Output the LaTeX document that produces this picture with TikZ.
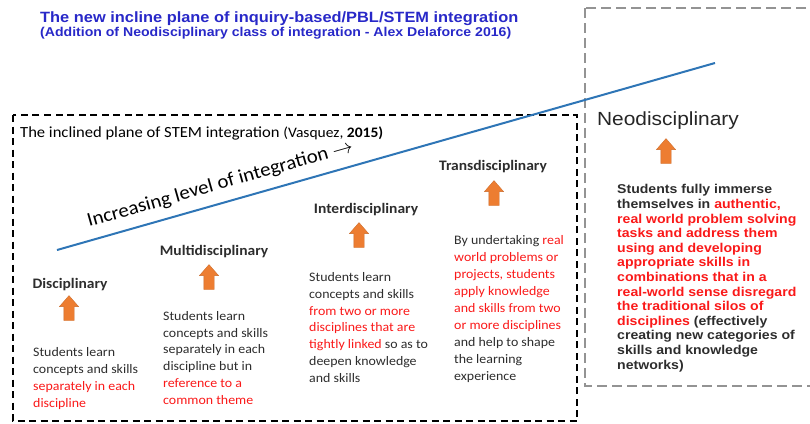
\documentclass[tikz,border=0pt]{standalone}
\usepackage{fontspec}
\setmainfont{Carlito}[FakeStretch=1.07]
\newfontfamily\arialfont{Liberation Sans}[FakeStretch=1.1]
\usetikzlibrary{shapes.arrows}

\definecolor{titleblue}{RGB}{40,40,200}
\definecolor{planeblue}{RGB}{46,117,182}
\definecolor{arrorange}{RGB}{237,125,49}
\definecolor{txtgray}{RGB}{45,45,45}
\definecolor{hired}{RGB}{250,25,25}
\newcommand{\hl}[1]{\textcolor{hired}{#1}}

\begin{document}
\begin{tikzpicture}[
  x=1pt, y=-1pt,
  stage/.style={font=\fontsize{14.5}{16}\selectfont\bfseries, text=txtgray, inner sep=0pt},
  desc/.style={font=\fontsize{13}{16.7}\selectfont, text=txtgray, align=left, anchor=base west, inner sep=0pt},
  uparr/.style={single arrow, shape border rotate=90, fill=arrorange, draw=arrorange!85!black, line width=0.3pt,
    minimum height=25pt, minimum width=19pt, inner sep=5pt, single arrow head extend=4.5pt,
    single arrow tip angle=82},
  oldframe/.style={line width=2pt, dash pattern=on 7pt off 4.5pt},
  newframe/.style={line width=2pt, gray!85, dash pattern=on 10pt off 5pt}
]
  \useasboundingbox (0,0) rectangle (810,423);

  % title
  \node[anchor=base west, inner sep=0pt, text=titleblue, font=\arialfont\bfseries\fontsize{14.9}{16}\selectfont] (title) at (40,22)
    {The new incline plane of inquiry-based/PBL/STEM integration};
  \node[anchor=base west, inner sep=0pt, text=titleblue, font=\arialfont\bfseries\fontsize{12.8}{13}\selectfont] (subtitle) at (40,36)
    {(Addition of Neodisciplinary class of integration - Alex Delaforce 2016)};

  % frames
  \draw[newframe] (585,8) rectangle (820,386);
  \draw[oldframe] (13,115) rectangle (577,421);
  \node[anchor=base west, inner sep=0pt, text=black, font=\fontsize{15.5}{16}\selectfont] (oldtitle) at (20,137)
    {The inclined plane of STEM integration {\fontsize{14.5}{15}\selectfont (Vasquez, \textbf{2015)}}};

  % the incline
  \coordinate (low) at (57,250);
  \coordinate (high) at (715,63);
  \draw[planeblue, line width=2pt] (low) -- (high);
  \node[anchor=base west, inner sep=0pt, rotate=15.9, font=\fontsize{19.5}{20}\selectfont] (incline) at (89,227)
    {Increasing level of integration $\rightarrow$};

  % stages
  \node[stage] (disc) at (70,285) {Disciplinary};
  \node[stage] (multi) at (214,252) {Multidisciplinary};
  \node[stage] (inter) at (366,210) {Interdisciplinary};
  \node[stage] (trans) at (493,167) {Transdisciplinary};
  \node[inner sep=0pt, text=black!85, font=\arialfont\fontsize{19}{20}\selectfont] (neo) at (668,121) {Neodisciplinary};

  \node[uparr] (discarr) at (69,311) {};
  \node[uparr] (multiarr) at (209,280) {};
  \node[uparr] (interarr) at (359,238) {};
  \node[uparr] (transarr) at (494,196) {};
  \node[uparr] (neoarr) at (666,154) {};

  % descriptions (anchored at the last baseline)
  \node[desc] (discdesc) at (33,407) {Students learn\\concepts and skills\\\hl{separately in each}\\\hl{discipline}};
  \node[desc] (multidesc) at (163,404) {Students learn\\concepts and skills\\separately in each\\discipline but in\\\hl{reference to a}\\\hl{common theme}};
  \node[desc] (interdesc) at (309,382) {Students learn\\concepts and skills\\\hl{from two or more}\\\hl{disciplines that are}\\\hl{tightly linked} so as to\\deepen knowledge\\and skills};
  \node[desc, font=\fontsize{13}{17}\selectfont] (transdesc) at (454,380) {By undertaking \hl{real}\\\hl{world problems or}\\\hl{projects, students}\\\hl{apply knowledge}\\\hl{and skills from two}\\\hl{or more disciplines}\\and help to shape\\the learning\\experience};
  \node[desc, font=\arialfont\bfseries\fontsize{12.8}{14.6}\selectfont] (neodesc) at (617,369)
    {Students fully immerse\\themselves in \hl{authentic,}\\\hl{real world problem solving}\\\hl{tasks and address them}\\\hl{using and developing}\\\hl{appropriate skills in}\\\hl{combinations that in a}\\\hl{real-world sense disregard}\\\hl{the traditional silos of}\\\hl{disciplines} (effectively\\creating new categories of\\skills and knowledge\\networks)};
\end{tikzpicture}
\end{document}
